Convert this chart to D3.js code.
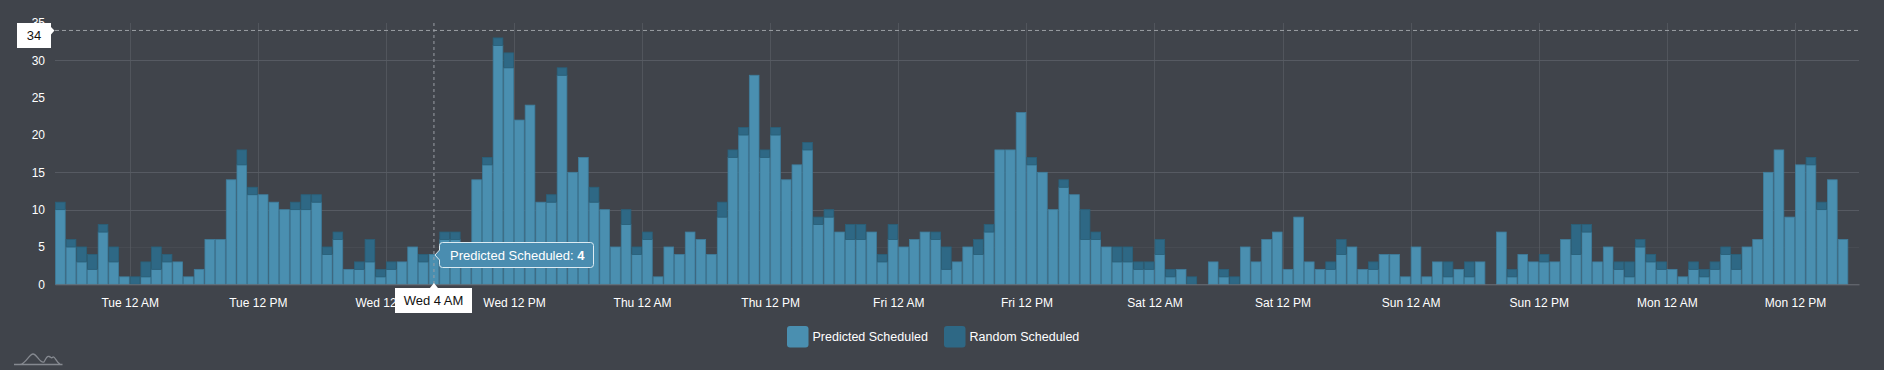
<!DOCTYPE html>
<html><head><meta charset="utf-8">
<script src="https://cdn.jsdelivr.net/npm/d3@7"></script>
<style>
html,body{margin:0;padding:0;background:#40444b;}
svg{display:block;font-family:"Liberation Sans",Arial,Helvetica,sans-serif;}
</style></head>
<body><svg id="c" width="1884" height="370"></svg>
<script>
// hourly buckets, first = Mon 5 PM
const startTime = new Date(2018, 0, 1, 17, 0, 0);
const predicted = [10,5,3,2,7,3,1,0,1,2,3,3,1,2,6,6,14,16,12,12,11,10,10,10,11,4,6,2,2,3,1,2,3,5,3,4,6,6,4,14,16,32,29,22,24,11,11,28,15,17,11,10,5,8,4,6,1,5,4,7,6,4,9,17,20,28,17,20,14,16,18,8,9,7,6,6,7,3,6,5,6,7,6,2,3,5,4,7,18,18,23,16,15,10,13,12,6,6,5,3,3,2,2,4,1,2,0,0,3,1,0,5,3,6,7,2,9,3,2,2,4,5,2,2,4,4,1,5,1,3,1,2,1,3,0,7,1,4,3,3,3,6,4,7,3,5,2,1,5,3,2,2,1,2,1,2,4,2,5,6,15,18,9,16,16,10,14,6];
const random = [1,1,2,2,1,2,0,1,2,3,1,0,0,0,0,0,0,2,1,0,0,0,1,2,1,1,1,0,1,3,1,1,0,0,1,0,1,1,0,0,1,1,2,0,0,0,1,1,0,0,2,0,0,2,1,1,0,0,0,0,0,0,2,1,1,0,1,1,0,0,1,1,1,0,2,2,0,1,2,0,0,0,1,3,0,0,2,1,0,0,0,1,0,0,1,0,4,1,0,2,2,1,1,2,1,0,1,0,0,1,1,0,0,0,0,0,0,0,0,1,2,0,0,1,0,0,0,0,0,0,2,0,2,0,0,0,1,0,0,1,0,0,4,1,0,0,1,2,1,1,1,0,0,1,1,1,1,2,0,0,0,0,0,0,1,1,0,0];
const seriesNames = ["Predicted Scheduled", "Random Scheduled"];
const seriesColors = ["#4a8fb0", "#2e6885"];
const yTicks = [0,5,10,15,20,25,30,35];
const hoverIndex = 35;      // Wed 4 AM
const crosshairValue = 34;

(function(){
const HOUR = 3600e3;
const data = predicted.map((p,i)=>({t:new Date(+startTime + i*HOUR), p, r: random[i]}));

const svg = d3.select("#c");
const pL = 55, pR = 1859, pT = 23, pB = 284.3;
const x = d3.scaleTime().domain([startTime, new Date(+startTime + (predicted.length+1)*HOUR)]).range([pL, pR]);
const y = d3.scaleLinear().domain([0,35]).range([pB, pT]);

// grid
const gridOpacity = {0:0,5:0.25,10:0.8,15:0.8,20:0.0,25:0.0,30:0.8,35:0};
const g = svg.append("g");
g.selectAll("line.h").data(yTicks.filter(v=>v>0 && v<35)).enter().append("line")
  .attr("x1", pL).attr("x2", pR).attr("y1", d=>Math.round(y(d))+0.5).attr("y2", d=>Math.round(y(d))+0.5)
  .attr("stroke", "#5b6068").attr("stroke-opacity", d=>gridOpacity[d]);
const xTicks = d3.timeHour.every(12).range(new Date(2018,0,2,0), new Date(2018,0,8,13));
g.selectAll("line.v").data(xTicks).enter().append("line")
  .attr("x1", d=>Math.round(x(d))+0.5).attr("x2", d=>Math.round(x(d))+0.5).attr("y1", pT).attr("y2", pB)
  .attr("stroke", "#585d64").attr("stroke-opacity", 0.7);

// bars
const bw = x(new Date(+startTime+HOUR)) - x(startTime);
const bars = svg.append("g");
bars.selectAll("rect.p").data(data).enter().append("rect")
  .attr("x", d=>x(d.t)+0.5).attr("width", bw-1)
  .attr("y", d=>y(d.p)).attr("height", d=>y(0)-y(d.p))
  .attr("fill", seriesColors[0]).attr("stroke", "#3e7d9c").attr("stroke-width", 0.8);
bars.selectAll("rect.r").data(data.filter(d=>d.r>0)).enter().append("rect")
  .attr("x", d=>x(d.t)+0.5).attr("width", bw-1)
  .attr("y", d=>y(d.p+d.r)).attr("height", d=>y(d.p)-y(d.p+d.r))
  .attr("fill", seriesColors[1]).attr("stroke", "#2a6079").attr("stroke-width", 0.8);

// axes
const xAxis = svg.append("g").attr("transform", `translate(0,${pB})`)
  .call(d3.axisBottom(x).tickValues(xTicks).tickFormat(d3.timeFormat("%a %-I %p")).tickSize(0).tickPadding(14));
xAxis.select(".domain").attr("stroke", "#6d7178");
xAxis.selectAll("text").attr("fill", "#ffffff").attr("font-size", 12).attr("font-family", "Liberation Sans, Arial, sans-serif");

const yAxis = svg.append("g").attr("transform", `translate(${pL},0)`)
  .call(d3.axisLeft(y).tickValues(yTicks).tickSize(0).tickPadding(10));
yAxis.select(".domain").remove();
yAxis.selectAll("text").attr("fill", "#ffffff").attr("font-size", 12).attr("font-family", "Liberation Sans, Arial, sans-serif");

// crosshair
const hd = data[hoverIndex];
const cx = x(hd.t) + bw/2;
svg.append("line").attr("x1", pL).attr("x2", pR).attr("y1", y(crosshairValue)).attr("y2", y(crosshairValue))
  .attr("stroke", "#9a9ea4").attr("stroke-dasharray", "4,3");
svg.append("line").attr("x1", cx).attr("x2", cx).attr("y1", pT).attr("y2", pB)
  .attr("stroke", "#9a9ea4").attr("stroke-dasharray", "3,3");

// y value label
const yl = svg.append("g");
yl.append("path").attr("d", `M17,23 H51 V27 L54.5,${y(crosshairValue)} L51,34.5 V48 H17 Z`).attr("fill", "#ffffff");
yl.append("text").attr("x", 34).attr("y", 40).attr("text-anchor", "middle").attr("font-size", 13).attr("fill", "#111")
  .text(crosshairValue);

// x value label
const xl = svg.append("g");
xl.append("path").attr("d", `M395,288 H${cx-4} L${cx},283 L${cx+4},288 H472 V313 H395 Z`).attr("fill", "#ffffff");
xl.append("text").attr("x", 433.5).attr("y", 304.5).attr("text-anchor", "middle").attr("font-size", 13).attr("fill", "#111")
  .text(d3.timeFormat("%a %-I %p")(hd.t));

// tooltip
const tt = svg.append("g");
const ty = 255;
tt.append("path").attr("d", `M442.5,${242.5} H590.5 Q593.5,242.5 593.5,245.5 V264.5 Q593.5,267.5 590.5,267.5 H442.5 Q439.5,267.5 439.5,264.5 V${ty+5} L${cx+1},${ty} L439.5,${ty-5} V245.5 Q439.5,242.5 442.5,242.5 Z`)
  .attr("fill", "#4a8db0").attr("stroke", "#dcebf2").attr("stroke-width", 1);
const tx = tt.append("text").attr("x", 450).attr("y", 259.5).attr("font-size", 13).attr("fill", "#ffffff");
tx.append("tspan").text(seriesNames[0] + ": ");
tx.append("tspan").attr("font-weight", "bold").text(hd.p);

// legend
const lg = svg.append("g");
const legendX = [787, 944];
seriesNames.forEach((n,i)=>{
  lg.append("rect").attr("x", legendX[i]).attr("y", 326).attr("width", 21.5).attr("height", 21.5).attr("rx", 3)
    .attr("fill", seriesColors[i]);
  lg.append("text").attr("x", legendX[i]+25.5).attr("y", 341).attr("font-size", 12.5).attr("fill", "#ffffff").text(n);
});

// logo
svg.append("path").attr("d", "M14,364.5 H62.5 M20,364.5 C26,364 29,354 33,354 C37,354 40,364 44,362 C46,358 47,356 49,356.5 C51,357 51,359 53,357 C55,356 56,362 60,364")
  .attr("fill", "none").attr("stroke", "#858990").attr("stroke-width", 1.3);
})();
</script></body></html>
